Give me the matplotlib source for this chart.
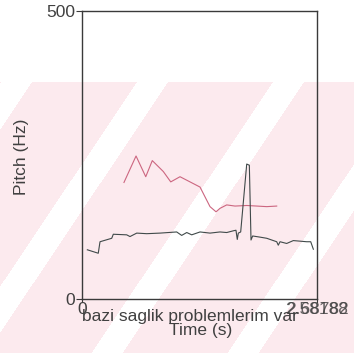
import matplotlib
matplotlib.use("Agg")
import matplotlib.pyplot as plt
import numpy as np

plt.rcParams['font.family'] = ['Liberation Sans', 'DejaVu Sans']

# pitch track, upper (red) contour
red_time = [0.48, 0.618, 0.729, 0.804, 0.93, 1.015, 1.121, 1.35, 1.464, 1.533,
            1.578, 1.655, 1.75, 1.884, 2.0, 2.113, 2.227]
red_hz = [202, 248, 212, 240, 221, 203, 212, 194, 160, 151,
          157, 163, 161, 162, 161, 160, 161]

# pitch track, lower (dark) contour
dark_time = [0.061, 0.186, 0.206, 0.34, 0.358, 0.511, 0.549, 0.626, 0.74, 0.892,
             1.083, 1.14, 1.198, 1.255, 1.35, 1.464, 1.578, 1.655, 1.731, 1.761,
             1.776, 1.788, 1.815, 1.884, 1.914, 1.933, 1.952, 2.036, 2.113, 2.227,
             2.245, 2.265, 2.341, 2.417, 2.57, 2.616, 2.646]
dark_hz = [85, 79, 99, 105, 112, 111, 108, 114, 113, 114,
           116, 110, 115, 111, 116, 114, 116, 115, 118, 119,
           103, 114, 116, 234, 232, 102, 109, 107, 105, 99,
           93, 99, 96, 101, 99, 99, 86]

y_range = (0, 500)
x_end = 2.68782
x_end_labels = ["2.68782", "2.58188"]
caption = "bazi saglik problemlerim var"

W, H = 354, 353
fs = 12.5
fig = plt.figure(figsize=(W / 100, H / 100), dpi=100)

# faint watermark behind the chart
bg = fig.add_axes([0, 0, 1, 1], zorder=-5)
yy, xx = np.mgrid[0:H, 0:W]
img = np.ones((H, W, 3))
pink = np.array([252, 234, 238]) / 255
phase = np.mod(xx + 0.67 * (yy - 81), 136)
mask = (yy > 81) & ~((phase >= 1) & (phase <= 32))
img[mask] = pink
bg.imshow(img, aspect='auto', interpolation='nearest')
bg.axis('off')

ax = fig.add_axes([82 / W, 1 - 298.7 / H, 235 / W, 287.7 / H])
ax.patch.set_alpha(0)
ax.plot(red_time, red_hz, color='#cc6680', lw=0.8)
ax.plot(dark_time, dark_hz, color='#404a4a', lw=0.8)

ax.set_xlim(0, x_end)
ax.set_ylim(*y_range)
for s in ax.spines.values():
    s.set_color('#3a3a3a')
    s.set_linewidth(1.0)

txt = '#404040'
ax.set_yticks(y_range)
ax.set_yticklabels([str(v) for v in y_range], fontsize=fs, color=txt)
ax.set_xticks([])
ax.tick_params(axis='y', length=4, width=0.8, color='#3a3a3a', pad=1)

ax.text(0, -0.01, "0", transform=ax.transAxes, ha='center', va='top',
        fontsize=fs, color=txt)
for lab in x_end_labels:
    ax.text(1, -0.01, lab, transform=ax.transAxes, ha='center', va='top',
            fontsize=fs, color=txt, alpha=0.8)
ax.plot([0, 0], [0, -0.012], transform=ax.transAxes, color='#3a3a3a',
        lw=0.8, clip_on=False)
ax.plot([1, 1], [0, -0.012], transform=ax.transAxes, color='#3a3a3a',
        lw=0.8, clip_on=False)

fig.text(190 / W, 1 - 317 / H, caption, ha='center', va='center',
         fontsize=fs, color=txt)
fig.text(201 / W, 1 - 331 / H, "Time (s)", ha='center', va='center',
         fontsize=fs, color=txt)
fig.text(22 / W, 1 - 157 / H, "Pitch (Hz)", ha='center', va='center',
         rotation=90, fontsize=fs, color=txt)

fig.savefig("out.png", dpi=100)
